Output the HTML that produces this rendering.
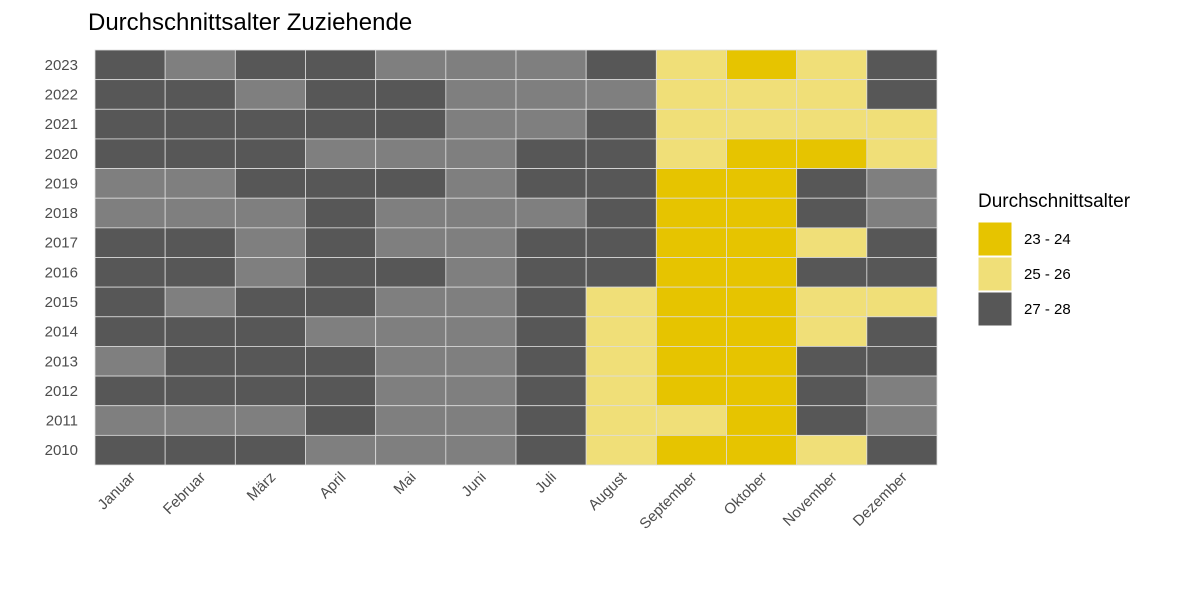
<!DOCTYPE html>
<html><head><meta charset="utf-8">
<style>
body{margin:0;background:#fff;font-family:"Liberation Sans",sans-serif;}
svg{display:block}
</style></head>
<body>
<svg id="chart" width="1180" height="590">
<text x="88" y="30" font-size="24" fill="#000">Durchschnittsalter Zuziehende</text>
<g id="cells"></g>
<g id="ylab"></g>
<g id="xlab"></g>
<g id="legend"></g>
</svg>
<script>
const months=["Januar","Februar","März","April","Mai","Juni","Juli","August","September","Oktober","November","Dezember"];
const years=["2023","2022","2021","2020","2019","2018","2017","2016","2015","2014","2013","2012","2011","2010"];
// codes: G=23-24, L=25-26, D=27-28, M=other (unlabeled)
const row2023="DMDDMMMDLGLD";
const row2022="DDMDDMMMLLLD";
const row2021="DDDDDMMDLLLL";
const row2020="DDDMMMDDLGGL";
const row2019="MMDDDMDDGGDM";
const row2018="MMMDMMMDGGDM";
const row2017="DDMDMMDDGGLD";
const row2016="DDMDDMDDGGDD";
const row2015="DMDDMMDLGGLL";
const row2014="DDDMMMDLGGLD";
const row2013="MDDDMMDLGGDD";
const row2012="DDDDMMDLGGDM";
const row2011="MMMDMMDLLGDM";
const row2010="DDDMMMDLGGLD";
const rows=[row2023,row2022,row2021,row2020,row2019,row2018,row2017,row2016,row2015,row2014,row2013,row2012,row2011,row2010];
const legendLabels=["23 - 24","25 - 26","27 - 28"];
const colors={G:"#E6C400",L:"#F0DF78",D:"#575757",M:"#7F7F7F"};
const NS="http://www.w3.org/2000/svg";
const x0=95,x1=937,y0=50,y1=465;
const cw=(x1-x0)/months.length, ch=(y1-y0)/years.length;
const xs=i=>x0+i*cw, ys=j=>y0+j*ch;
const cells=document.getElementById('cells');
rows.forEach((r,j)=>{[...r].forEach((c,i)=>{
  const e=document.createElementNS(NS,'rect');
  e.setAttribute('x',xs(i));e.setAttribute('y',ys(j));
  e.setAttribute('width',cw);e.setAttribute('height',ch);
  e.setAttribute('fill',colors[c]);e.setAttribute('stroke','#ddd');e.setAttribute('stroke-width','0.8');
  
  
  cells.appendChild(e);
});});
const yl=document.getElementById('ylab');
years.forEach((y,j)=>{
  const t=document.createElementNS(NS,'text');
  t.setAttribute('x',78);t.setAttribute('y',ys(j)+ch/2+5);
  t.setAttribute('text-anchor','end');t.setAttribute('font-size','15');t.setAttribute('fill','#4d4d4d');
  t.textContent=y;
  
  
  yl.appendChild(t);
});
const xl=document.getElementById('xlab');
months.forEach((m,i)=>{
  const cx=xs(i)+cw/2+6, cy=478;
  const t=document.createElementNS(NS,'text');
  t.setAttribute('x',cx);t.setAttribute('y',cy);
  t.setAttribute('text-anchor','end');t.setAttribute('font-size','15');t.setAttribute('fill','#4d4d4d');
  t.setAttribute('transform','rotate(-45 '+cx+' '+cy+')');
  t.textContent=m;
  
  
  xl.appendChild(t);
});
const lg=document.getElementById('legend');
const lt=document.createElementNS(NS,'text');
lt.setAttribute('x',978);lt.setAttribute('y',207);lt.setAttribute('font-size','19');lt.textContent='Durchschnittsalter';


lg.appendChild(lt);
["G","L","D"].forEach((k,i)=>{
  const r=document.createElementNS(NS,'rect');
  r.setAttribute('x',978);r.setAttribute('y',222+i*35);r.setAttribute('width',34);r.setAttribute('height',34);
  r.setAttribute('fill',colors[k]);r.setAttribute('stroke','#fff');
  
  
  lg.appendChild(r);
  const t=document.createElementNS(NS,'text');
  t.setAttribute('x',1024);t.setAttribute('y',244+i*35);t.setAttribute('font-size','15');
  t.textContent=legendLabels[i];
  
  
  lg.appendChild(t);
});
</script>
</body></html>
